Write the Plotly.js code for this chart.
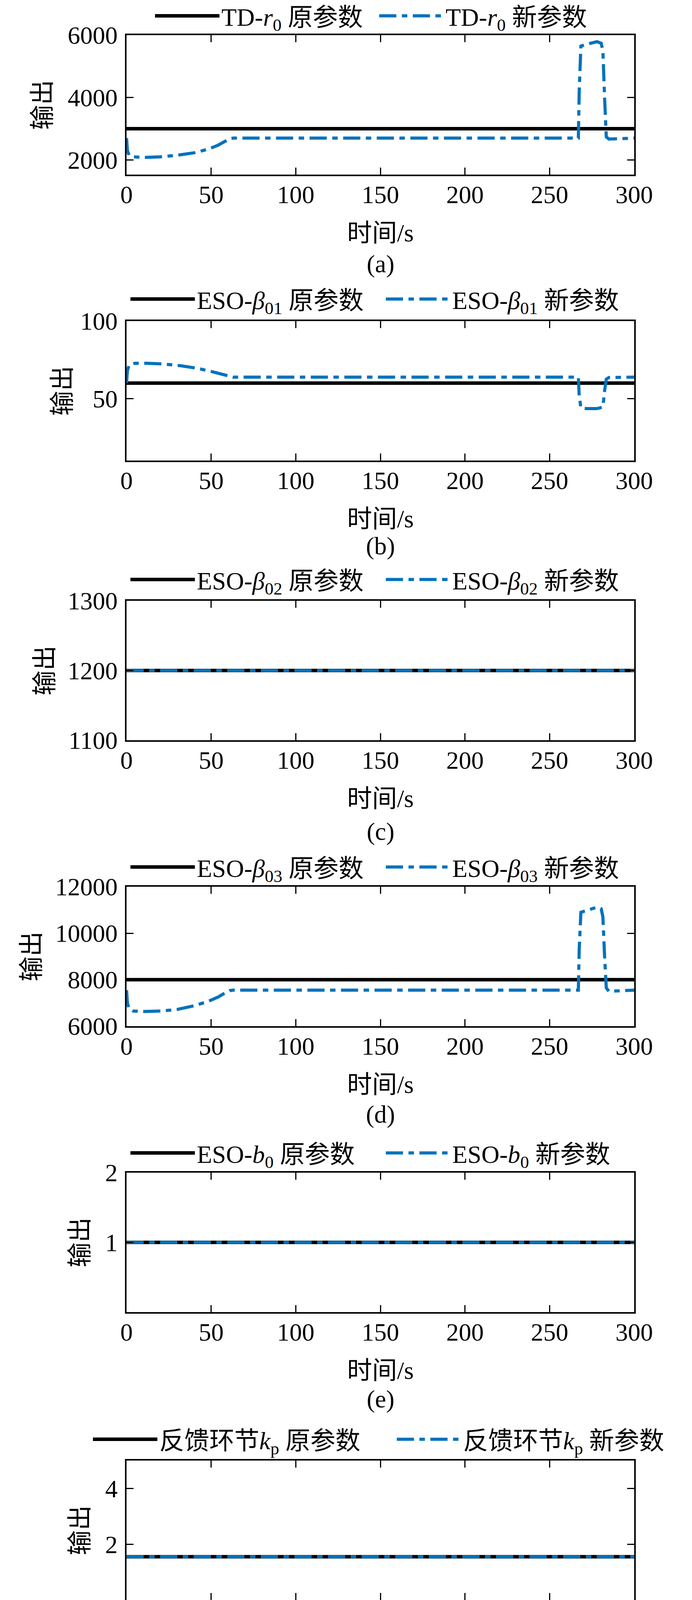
<!DOCTYPE html>
<html>
<head>
<meta charset="utf-8">
<script src="https://cdn.plot.ly/plotly-3.0.1.min.js"></script>
<style>html,body{margin:0;padding:0;background:#fff}</style>
</head>
<body>
<div id="chart" style="width:1772px;height:5084px"></div>
<script>
// time (s) for the constant "original parameter" lines
const tOld = [0, 300];

// (a) TD-r0
const r0Old = [3000, 3000];
const r0NewT = [0, 0.5, 1.5, 4, 10, 20, 30, 40, 48, 54, 58, 61, 63, 267, 267.5, 268.5, 272, 278, 280.5, 281.5, 282.5, 283.5, 285, 300];
const r0New = [2700, 2300, 2150, 2100, 2080, 2100, 2150, 2230, 2340, 2470, 2590, 2680, 2700, 2700, 4200, 5650, 5710, 5790, 5740, 5500, 4000, 2740, 2670, 2700];

// (b) ESO-beta01
const b01Old = [60, 60];
const b01NewT = [0, 0.5, 1.5, 5, 12, 22, 32, 42, 50, 56, 60, 63, 267, 267.5, 268.5, 272, 278, 281.5, 282.5, 283.5, 285, 300];
const b01New = [60, 68, 71.5, 72.8, 72.8, 72.3, 71.2, 69.5, 67.5, 65.6, 64.3, 63.8, 63.8, 52, 44, 43.5, 43.5, 44.5, 55, 62.5, 63.6, 63.8];

// (c) ESO-beta02
const b02Old = [1200, 1200];
const b02New = [1200, 1200];

// (d) ESO-beta03
const b03Old = [8000, 8000];
const b03NewT = [0, 0.5, 1.5, 4, 10, 20, 30, 40, 48, 54, 58, 61, 63, 267, 267.5, 268.5, 272, 278, 280.5, 281.5, 282.5, 283.5, 285, 300];
const b03New = [7550, 7000, 6750, 6650, 6630, 6650, 6720, 6880, 7060, 7250, 7420, 7530, 7550, 7550, 9300, 10900, 10980, 11120, 11050, 10700, 9000, 7650, 7500, 7550];

// (e) ESO-b0
const b0Old = [1, 1];
const b0New = [1, 1];

// (f) kp
const kpOld = [1.55, 1.55];
const kpNew = [1.55, 1.55];

// (g) kd
const kdOld = [2.5, 2.5];
const kdNewT = [0, 0.5, 1.5, 5, 12, 22, 32, 42, 50, 56, 60, 63, 267, 267.5, 268.5, 272, 278, 281.5, 282.5, 283.5, 285, 300];
const kdNew = [3.9, 4.1, 4.18, 4.21, 4.21, 4.19, 4.15, 4.08, 4.0, 3.93, 3.89, 3.88, 3.88, 3.4, 3.05, 3.02, 3.02, 3.05, 3.5, 3.85, 3.88, 3.88];

const params = ['TD-<i>r</i><sub>0</sub>', 'ESO-<i>β</i><sub>01</sub>', 'ESO-<i>β</i><sub>02</sub>',
  'ESO-<i>β</i><sub>03</sub>', 'ESO-<i>b</i><sub>0</sub>', '反馈环节<i>k</i><sub>p</sub>', '反馈环节<i>k</i><sub>d</sub>'];
const captions = ['(a)', '(b)', '(c)', '(d)', '(e)', '(f)', '(g)'];

const xTicks = [0, 50, 100, 150, 200, 250, 300];
const yRanges = [[1530, 6000], [10, 100], [1100, 1300], [6000, 12000], [0, 2], [0, 5], [-2, 5]];
const yTicks = [[2000, 4000, 6000], [50, 100], [1100, 1200, 1300], [6000, 8000, 10000, 12000], [1, 2], [2, 4], [-2, 0, 2, 4]];

const series = [
  [tOld, r0Old, r0NewT, r0New],
  [tOld, b01Old, b01NewT, b01New],
  [tOld, b02Old, tOld, b02New],
  [tOld, b03Old, b03NewT, b03New],
  [tOld, b0Old, tOld, b0New],
  [tOld, kpOld, tOld, kpNew],
  [tOld, kdOld, kdNewT, kdNew]
];

// layout in pixels
const W = 1772, H = 5084;
const plotL = 324, plotR = 1624, plotH = 357;
const panelTop = [90, 822, 1538, 2270, 3002, 3739, 4464];
const legendY = [41, 766, 1484, 2220, 2952, 3685, 4414];
const legendX = [392, 329, 329, 329, 329, 233, 233];
const legendEntryW = [394, 474, 474, 474, 474, 598, 598];
const yTitleX = [108, 159, 114, 80, 204, 204, 187];
const captionGap = [229, 219, 234, 225, 222, 222, 231];

const serif = 'Liberation Serif, Noto Sans CJK SC, serif';
const font = {family: serif, size: 64, color: '#000'};
const blue = '#0072BD';

const traces = [];
const layout = {
  width: W, height: H,
  margin: {l: 0, r: 0, t: 0, b: 0, autoexpand: false},
  paper_bgcolor: '#fff', plot_bgcolor: '#fff',
  font: font,
  annotations: []
};

for (let i = 0; i < 7; i++) {
  const n = i === 0 ? '' : String(i + 1);
  const lg = 'legend' + n;
  const [t1, y1, t2, y2] = series[i];
  traces.push({
    x: t1, y: y1, xaxis: 'x' + n, yaxis: 'y' + n, legend: lg,
    type: 'scatter', mode: 'lines', name: params[i] + ' 原参数',
    line: {color: '#000', width: 9}
  });
  traces.push({
    x: t2, y: y2, xaxis: 'x' + n, yaxis: 'y' + n, legend: lg,
    type: 'scatter', mode: 'lines', name: params[i] + ' 新参数',
    line: {color: blue, width: 8, dash: '44px,14px,14px,14px'}
  });

  const top = panelTop[i], bot = panelTop[i] + plotH;
  const common = {
    ticks: 'inside', ticklen: 18, tickwidth: 3, tickcolor: '#000',
    showline: true, linewidth: 4, linecolor: '#000', mirror: 'ticks',
    showgrid: false, zeroline: false, tickfont: font, fixedrange: true
  };
  layout['xaxis' + n] = Object.assign({}, common, {
    domain: [plotL / W, plotR / W], anchor: 'y' + n,
    range: [0, 300], tickmode: 'array', tickvals: xTicks,
    ticklabelstandoff: -8,
    title: {text: '时间/s', font: font, standoff: 41}
  });
  layout['yaxis' + n] = Object.assign({}, common, {
    domain: [1 - bot / H, 1 - top / H], anchor: 'x' + n,
    range: yRanges[i], tickmode: 'array', tickvals: yTicks[i], tickformat: 'd',
    ticklabelstandoff: 6
  });
  layout[lg] = {
    orientation: 'h', x: legendX[i] / W, xanchor: 'left',
    y: 1 - legendY[i] / H, yanchor: 'middle',
    font: {family: serif, size: 64, color: '#000'},
    itemwidth: 165, entrywidth: legendEntryW[i], entrywidthmode: 'pixels',
    bgcolor: 'rgba(0,0,0,0)', borderwidth: 0
  };
  // y-axis title "输出"
  layout.annotations.push({
    text: '输出', xref: 'paper', yref: 'paper', textangle: -90,
    x: yTitleX[i] / W, y: 1 - (top + plotH / 2) / H,
    xanchor: 'center', yanchor: 'middle', showarrow: false, font: font
  });
  layout.annotations.push({
    text: captions[i], xref: 'paper', yref: 'paper',
    x: (plotL + plotR) / 2 / W, y: 1 - (bot + captionGap[i]) / H,
    xanchor: 'center', yanchor: 'middle', showarrow: false, font: font
  });
}

Plotly.newPlot('chart', traces, layout, {staticPlot: true});
</script>
</body>
</html>
